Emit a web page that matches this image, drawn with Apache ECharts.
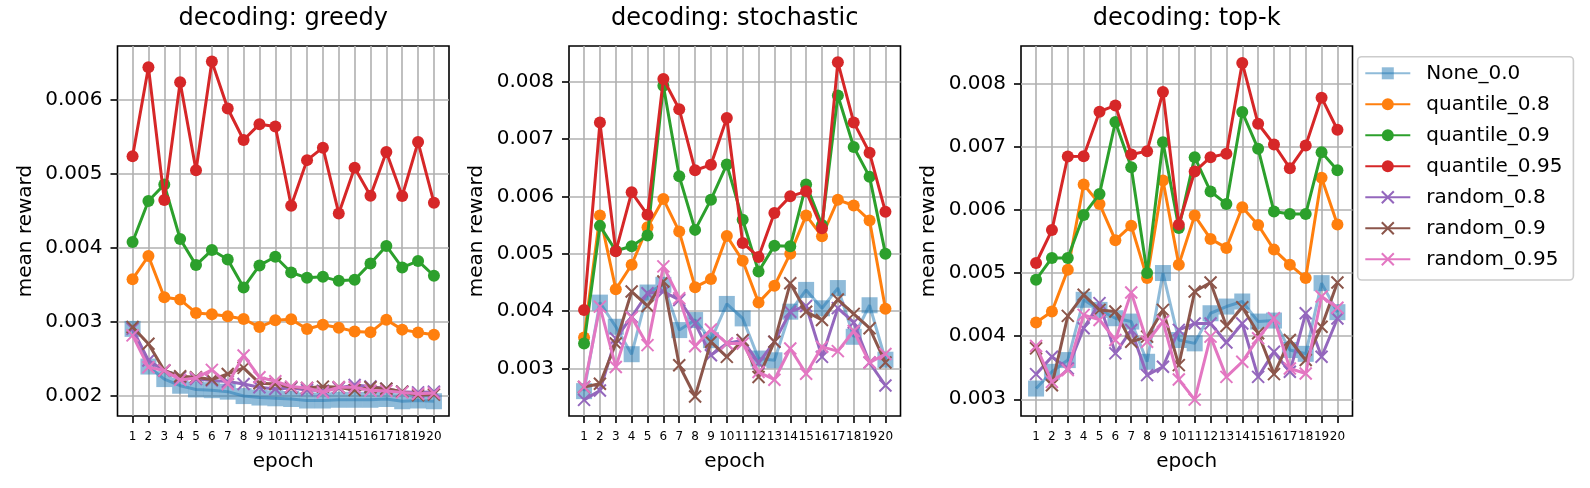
<!DOCTYPE html>
<html><head><meta charset="utf-8">
<script src="https://cdn.jsdelivr.net/npm/echarts@6/dist/echarts.min.js"></script>
<style>html,body{margin:0;padding:0;background:#fff}#c{width:1590px;height:488px}</style>
</head><body><div id="c"></div>
<script>
const epochs = [1,2,3,4,5,6,7,8,9,10,11,12,13,14,15,16,17,18,19,20];
const seriesNames = ['None_0.0','quantile_0.8','quantile_0.9','quantile_0.95','random_0.8','random_0.9','random_0.95'];
const panelTitles = ['decoding: greedy','decoding: stochastic','decoding: top-k'];
const xLabel = 'epoch';
const yLabel = 'mean reward';
const yTicksGreedy = [0.002,0.003,0.004,0.005,0.006];
const yTicksStochastic = [0.003,0.004,0.005,0.006,0.007,0.008];
const yTicksTopk = [0.003,0.004,0.005,0.006,0.007,0.008];
const yRangeGreedy = [0.00172, 0.006732];
const yRangeStochastic = [0.002168, 0.008623];
const yRangeTopk = [0.002735, 0.008597];

// greedy
const greedy_None = [0.00290,0.00239,0.00222,0.00213,0.00208,0.00207,0.00205,0.00199,0.00197,0.00196,0.00195,0.00193,0.00193,0.00194,0.00194,0.00194,0.00195,0.00192,0.00193,0.00192];
const greedy_q08 = [0.003574,0.003887,0.003329,0.003297,0.003116,0.003098,0.00307,0.003034,0.002925,0.003016,0.003029,0.002898,0.002957,0.002916,0.002866,0.002853,0.003025,0.00289,0.00285,0.00282];
const greedy_q09 = [0.004077,0.004632,0.004855,0.004118,0.003764,0.003968,0.003841,0.00346,0.00376,0.003878,0.003664,0.003592,0.003605,0.003551,0.003565,0.003787,0.004023,0.00373,0.00382,0.00362];
const greedy_q095 = [0.00524,0.006445,0.004645,0.006241,0.00505,0.006523,0.005886,0.005459,0.005673,0.005641,0.004568,0.005186,0.005355,0.004464,0.005082,0.004705,0.005295,0.0047,0.00543,0.00461];
const greedy_r08 = [0.0029,0.002472,0.002336,0.002245,0.002222,0.0022,0.002186,0.002154,0.002109,0.002086,0.0021,0.002073,0.002064,0.0021,0.00214,0.00212,0.00209,0.00205,0.00204,0.00205];
const greedy_r09 = [0.002925,0.002698,0.002336,0.002259,0.002245,0.002213,0.00229,0.002372,0.002163,0.002154,0.002109,0.0021,0.002118,0.002109,0.00207,0.002109,0.00209,0.00205,0.0020,0.00201];
const greedy_r095 = [0.002812,0.002381,0.002336,0.002209,0.002236,0.002345,0.002154,0.00254,0.002245,0.002191,0.002118,0.0021,0.002041,0.002109,0.002109,0.002064,0.00206,0.00204,0.00202,0.00203];

// stochastic
const stoch_None = [0.002602,0.004146,0.003725,0.003246,0.004322,0.004456,0.003667,0.003842,0.003491,0.004123,0.003871,0.00317,0.00314,0.003988,0.004368,0.004047,0.0044,0.00355,0.0041,0.00315];
const stoch_q08 = [0.003538,0.005667,0.00438,0.004807,0.005462,0.005953,0.005386,0.004415,0.004556,0.00531,0.004877,0.004146,0.004439,0.005,0.005667,0.005304,0.00594,0.00584,0.00558,0.00404];
const stoch_q09 = [0.003433,0.005485,0.00505,0.005129,0.005316,0.00793,0.006351,0.005415,0.005942,0.006556,0.005591,0.00469,0.00514,0.005129,0.006205,0.0055,0.00776,0.00686,0.00634,0.005];
const stoch_q095 = [0.004018,0.007287,0.005041,0.00607,0.005678,0.008047,0.00752,0.006456,0.00655,0.007368,0.005187,0.004942,0.005708,0.006,0.006088,0.005444,0.00834,0.00729,0.00676,0.00573];
const stoch_r08 = [0.00245,0.002614,0.00352,0.0039,0.00431,0.004339,0.004193,0.003784,0.003228,0.003433,0.003491,0.003094,0.003462,0.003988,0.004088,0.003199,0.00405,0.0038,0.0031,0.0027];
const stoch_r09 = [0.002673,0.002731,0.003433,0.004339,0.004088,0.004515,0.003053,0.002509,0.003462,0.003199,0.003491,0.002848,0.003462,0.004485,0.003988,0.003842,0.0042,0.00395,0.0037,0.0031];
const stoch_r095 = [0.002673,0.004076,0.003023,0.003889,0.003404,0.004778,0.004222,0.003386,0.003678,0.003433,0.003433,0.002936,0.002801,0.003345,0.002906,0.003374,0.0033,0.00365,0.0031,0.00325];

// top-k
const topk_None = [0.00317,0.003435,0.003621,0.004576,0.004416,0.004284,0.004231,0.003594,0.005,0.003939,0.003886,0.004363,0.004469,0.004549,0.004231,0.004247,0.00378,0.00372,0.00484,0.00438];
const topk_q08 = [0.004215,0.00439,0.005053,0.006402,0.006095,0.00552,0.005751,0.00492,0.006466,0.005133,0.00591,0.005541,0.005398,0.006042,0.005762,0.005371,0.005133,0.00492,0.006508,0.00577];
const topk_q09 = [0.004894,0.005239,0.005239,0.005921,0.006254,0.007392,0.006677,0.005,0.007074,0.005714,0.006836,0.006291,0.006095,0.00755,0.006968,0.005974,0.005937,0.005937,0.006915,0.00663];
const topk_q095 = [0.005159,0.00568,0.006847,0.006852,0.007556,0.007656,0.006878,0.006931,0.007868,0.005767,0.006608,0.006836,0.006889,0.008328,0.007365,0.007037,0.006661,0.007021,0.007778,0.00727];
const topk_r08 = [0.003398,0.003674,0.003488,0.004125,0.004523,0.003727,0.004098,0.003382,0.003515,0.00410,0.00420,0.00420,0.00390,0.00420,0.003355,0.003753,0.003435,0.004363,0.003674,0.00428];
const topk_r09 = [0.003806,0.003223,0.004321,0.004655,0.004416,0.00439,0.003912,0.003992,0.004416,0.003541,0.004708,0.004851,0.004162,0.004459,0.004045,0.003398,0.003939,0.003621,0.00415,0.00485];
const topk_r095 = [0.003844,0.003276,0.003462,0.004337,0.004257,0.003939,0.004692,0.003912,0.004231,0.003313,0.002995,0.003992,0.003355,0.003594,0.003966,0.004284,0.003488,0.003408,0.004629,0.00445];

const panels = [
  {title: panelTitles[0], yTicks: yTicksGreedy, yRange: yRangeGreedy, data: [greedy_None,greedy_q08,greedy_q09,greedy_q095,greedy_r08,greedy_r09,greedy_r095]},
  {title: panelTitles[1], yTicks: yTicksStochastic, yRange: yRangeStochastic, data: [stoch_None,stoch_q08,stoch_q09,stoch_q095,stoch_r08,stoch_r09,stoch_r095]},
  {title: panelTitles[2], yTicks: yTicksTopk, yRange: yRangeTopk, data: [topk_None,topk_q08,topk_q09,topk_q095,topk_r08,topk_r09,topk_r095]}
];

const FONT = 'DejaVu Sans';
const X_PATH = 'path://M0,0L10,10M0,10L10,0';
const looks = [
  {color:'#1f77b4', symbol:'rect', size:16, opacity:0.5},
  {color:'#ff7f0e', symbol:'circle', size:12, opacity:1},
  {color:'#2ca02c', symbol:'circle', size:12, opacity:1},
  {color:'#d62728', symbol:'circle', size:12, opacity:1},
  {color:'#9467bd', symbol:X_PATH, size:12, opacity:1, cross:true},
  {color:'#8c564b', symbol:X_PATH, size:12, opacity:1, cross:true},
  {color:'#e377c2', symbol:X_PATH, size:12, opacity:1, cross:true}
];

const gridLefts = [117.5, 569, 1021];
const gridTop = 46, gridW = 331.5, gridH = 370;

const grids = [], xAxes = [], yAxes = [], series = [], graphics = [];
panels.forEach((p, i) => {
  grids.push({left: gridLefts[i], top: gridTop, width: gridW, height: gridH, show: true,
    borderColor: '#000', borderWidth: 1.6, backgroundColor: 'transparent', containLabel: false});
  xAxes.push({type: 'value', gridIndex: i, min: 0.05, max: 20.95, minInterval: 1, maxInterval: 1,
    axisLine: {show: false},
    axisTick: {show: true, inside: false, length: 7, lineStyle: {color: '#000', width: 1.6}, customValues: epochs},
    axisLabel: {show: true, customValues: epochs, fontFamily: FONT, fontSize: 12, color: '#000', margin: 14.5, hideOverlap: false},
    splitLine: {show: true, lineStyle: {color: '#b0b0b0', width: 1.6}},
    name: xLabel, nameLocation: 'middle', nameGap: 36,
    nameTextStyle: {fontFamily: FONT, fontSize: 20, color: '#000'}});
  yAxes.push({type: 'value', gridIndex: i, min: p.yRange[0], max: p.yRange[1], minInterval: 0.001, maxInterval: 0.001,
    axisLine: {show: false},
    axisTick: {show: true, inside: false, length: 7, lineStyle: {color: '#000', width: 1.6}, customValues: p.yTicks},
    axisLabel: {show: true, customValues: p.yTicks, fontFamily: FONT, fontSize: 20, color: '#000', margin: 15,
      formatter: v => v.toFixed(3)},
    splitLine: {show: true, lineStyle: {color: '#b0b0b0', width: 1.6}},
    name: yLabel, nameLocation: 'middle', nameGap: 82, nameRotate: 90,
    nameTextStyle: {fontFamily: FONT, fontSize: 20, color: '#000'}});
  graphics.push({type: 'text', x: gridLefts[i] + gridW / 2, y: 31,
    style: {text: p.title, font: '24px "DejaVu Sans"', fill: '#000', textAlign: 'center', textVerticalAlign: 'bottom'}});
  p.data.forEach((vals, k) => {
    const lk = looks[k];
    series.push({
      type: 'line', name: seriesNames[k], xAxisIndex: i, yAxisIndex: i,
      data: epochs.map((e, j) => [e, vals[j]]),
      symbol: lk.symbol, symbolSize: lk.size, showSymbol: true, showAllSymbol: true,
      lineStyle: {color: lk.color, width: 3, opacity: lk.opacity},
      itemStyle: lk.cross ? {color: lk.color, borderColor: lk.color, borderWidth: 2, opacity: lk.opacity}
                          : {color: lk.color, borderWidth: 0, opacity: lk.opacity},
      emphasis: {disabled: true}, silent: true, z: 2 + k
    });
  });
});

const chart = echarts.init(document.getElementById('c'), null, {renderer: 'canvas'});
chart.setOption({
  animation: false,
  backgroundColor: '#fff',
  grid: grids, xAxis: xAxes, yAxis: yAxes, series: series,
  graphic: graphics,
  legend: {
    data: seriesNames, orient: 'vertical', left: 1357.7, top: 56.7,
    padding: [6.6, 11, 10.7, 6.6], itemWidth: 45, itemHeight: 15, itemGap: 11,
    backgroundColor: 'rgba(255,255,255,0.8)', borderColor: '#cccccc', borderWidth: 1.6, borderRadius: 4,
    selectedMode: false,
    textStyle: {fontFamily: FONT, fontSize: 20, color: '#000', lineHeight: 20, padding: [0, 0, 0, 11]}
  }
});
</script></body></html>
